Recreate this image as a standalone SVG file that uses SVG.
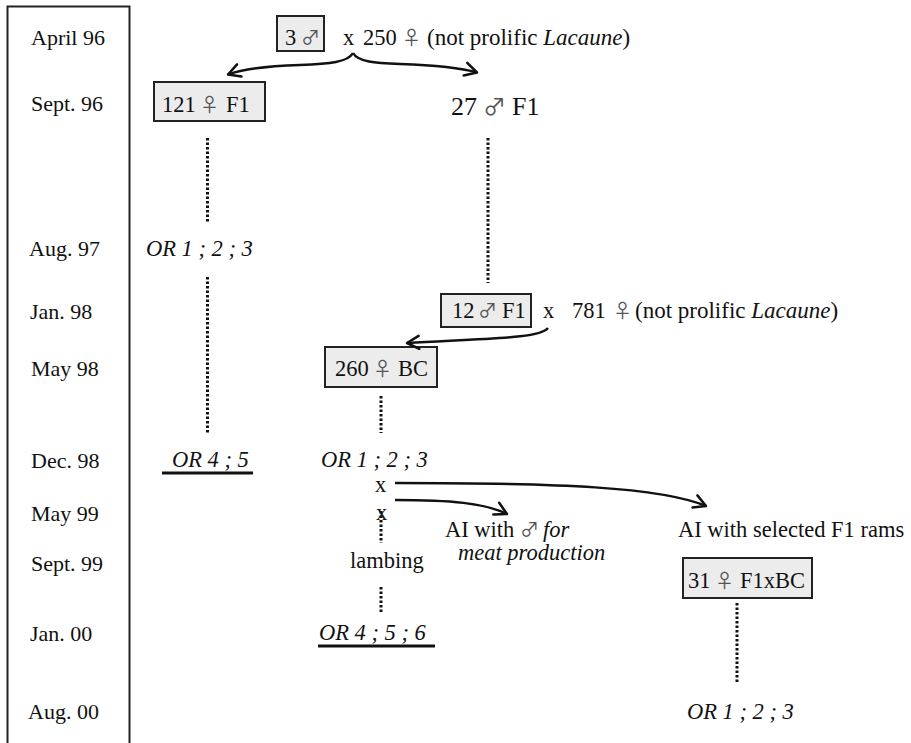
<svg xmlns="http://www.w3.org/2000/svg" width="911" height="743" viewBox="0 0 911 743">
<style>
text{font-family:"Liberation Serif","Times New Roman",serif;font-size:22.5px;fill:#111}
.d{font-size:22px}
.i{font-style:italic}
.s{font-family:"Noto Sans CJK JP","DejaVu Sans",sans-serif;font-size:19px;fill:#555}
.box{fill:#ececec;stroke:#222;stroke-width:2}
.dot{stroke:#111;stroke-width:3;stroke-dasharray:2.5 2;fill:none}
.ul{stroke:#111;stroke-width:3}
.arr{fill:none;stroke:#111;stroke-width:2.5;marker-end:url(#v)}
</style>
<defs>
<marker id="v" markerUnits="userSpaceOnUse" viewBox="-14 -8 16 16" refX="0" refY="0" markerWidth="16" markerHeight="16" orient="auto">
<path d="M-12,-6.5 L0,0 L-12,6.5" fill="none" stroke="#111" stroke-width="2.5" stroke-linecap="round" stroke-linejoin="round"/>
</marker>
</defs>
<rect width="911" height="743" fill="#fff"/>
<g id="timeline">
<path d="M7.5,750 V6.5 H129.5 V750" fill="none" stroke="#222" stroke-width="2"/>
<text class="d" x="31" y="45">April 96</text>
<text class="d" x="31" y="111">Sept. 96</text>
<text class="d" x="29" y="256">Aug. 97</text>
<text class="d" x="30" y="319">Jan. 98</text>
<text class="d" x="31" y="376">May 98</text>
<text class="d" x="31" y="468">Dec. 98</text>
<text class="d" x="31" y="521">May 99</text>
<text class="d" x="31" y="571">Sept. 99</text>
<text class="d" x="30" y="641">Jan. 00</text>
<text class="d" x="28" y="719">Aug. 00</text>
</g>
<g id="n-3m">
<rect class="box" x="277" y="16" width="47" height="35"/>
<text x="285" y="45">3</text><text class="s" x="301" y="45">♂</text>
</g>
<g id="n-cross1">
<text x="343" y="45">x</text>
<text x="363" y="45">250</text>
<text class="s" x="402" y="45">♀</text>
<text x="427" y="45" style="font-size:23px">(not prolific <tspan class="i">Lacaune</tspan>)</text>
</g>
<g id="n-121f">
<rect class="box" x="154" y="82" width="111" height="39"/>
<text x="162" y="112">121</text><text class="s" x="200" y="112">♀</text><text x="226" y="112">F1</text>
</g>
<g id="n-27m">
<text x="451" y="115" style="font-size:26px">27</text><text class="s" x="483" y="115" style="font-size:23px">♂</text><text x="512" y="115" style="font-size:26px">F1</text>
</g>
<g id="n-or123a"><text class="i" x="146" y="256">OR 1 ; 2 ; 3</text></g>
<g id="n-12m">
<rect class="box" x="441" y="294" width="90" height="33"/>
<text x="452" y="318">12</text><text class="s" x="478" y="318">♂</text><text x="502" y="318">F1</text>
</g>
<g id="n-cross2">
<text x="543" y="318">x</text>
<text x="572" y="318">781</text>
<text class="s" x="613" y="318">♀</text>
<text x="635" y="318" style="font-size:23px">(not prolific <tspan class="i">Lacaune</tspan>)</text>
</g>
<g id="n-260f">
<rect class="box" x="325" y="347" width="112" height="40"/>
<text x="335" y="376">260</text><text class="s" x="373" y="376">♀</text><text x="398" y="376">BC</text>
</g>
<g id="n-or45">
<text class="i" x="172" y="467">OR 4 ; 5</text>
<line class="ul" x1="162" y1="473" x2="253" y2="473"/>
</g>
<g id="n-or123b"><text class="i" x="321" y="467">OR 1 ; 2 ; 3</text></g>
<g id="n-x1"><text x="375" y="492">x</text></g>
<g id="n-x2"><text x="376" y="520">x</text></g>
<g id="n-ai1">
<text x="445" y="537">AI with <tspan class="s">♂</tspan><tspan class="i" dx="4">for</tspan></text>
<text class="i" x="458" y="560">meat production</text>
</g>
<g id="n-ai2"><text x="678" y="537">AI with selected F1 rams</text></g>
<g id="n-lambing"><text x="350" y="568">lambing</text></g>
<g id="n-or456">
<text class="i" x="319" y="640">OR 4 ; 5 ; 6</text>
<line class="ul" x1="318" y1="646" x2="435" y2="646"/>
</g>
<g id="n-31f">
<rect class="box" x="683" y="558" width="129" height="40"/>
<text x="688" y="588">31</text><text class="s" x="715" y="588">♀</text><text x="740" y="588">F1xBC</text>
</g>
<g id="n-or123c"><text class="i" x="687" y="719">OR 1 ; 2 ; 3</text></g>
<g id="connectors">
<path class="arr" d="M353,53 C348,62 330,64 300,65 C270,66 246,68 228,74.5"/>
<path class="arr" d="M353,53 C358,62 375,63 400,64 C430,65 458,67 477,72.5"/>
<path class="arr" d="M548,328 C540,338 500,338 407,343"/>
<path class="arr" d="M395,483 C560,483 660,487 706,506"/>
<path class="arr" d="M395,500 C450,500 485,503 507,514"/>
<line class="dot" x1="207.5" y1="138" x2="207.5" y2="222"/>
<line class="dot" x1="207.5" y1="277" x2="207.5" y2="433"/>
<line class="dot" x1="488" y1="138" x2="488" y2="283"/>
<line class="dot" x1="381" y1="396" x2="381" y2="433"/>
<line class="dot" x1="381" y1="511" x2="381" y2="543"/>
<line class="dot" x1="381" y1="587" x2="381" y2="613"/>
<line class="dot" x1="737" y1="603" x2="737" y2="682"/>
</g>
</svg>
